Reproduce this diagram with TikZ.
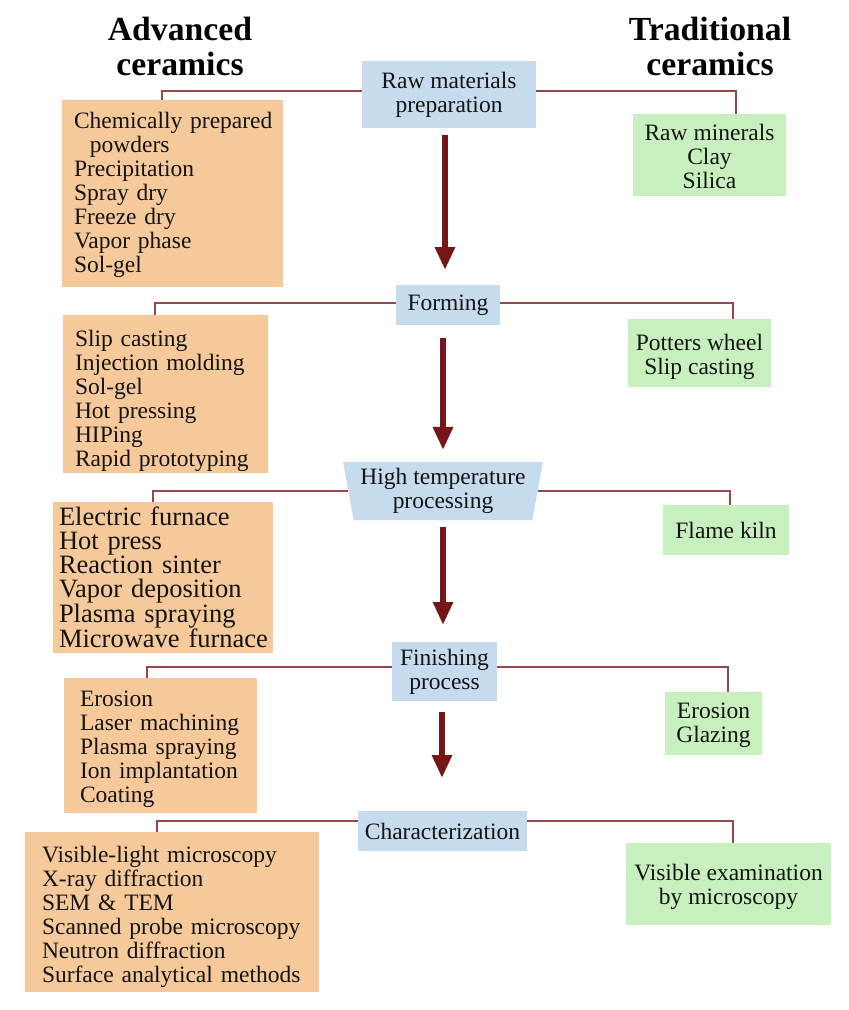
\documentclass[tikz,border=0pt]{standalone}
\usepackage{fontspec}
\setmainfont{Liberation Serif}
\usetikzlibrary{arrows.meta,shapes.geometric}
\definecolor{orangefill}{RGB}{246,201,155}
\definecolor{greenfill}{RGB}{200,240,190}
\definecolor{bluefill}{RGB}{198,220,238}
\definecolor{connc}{RGB}{150,72,72}
\definecolor{arrowc}{RGB}{118,22,22}
\definecolor{textc}{RGB}{20,20,20}
\newcommand\tgap[1]{\rule{0pt}{#1}}
\tikzset{
  basefont/.style={font=\fontsize{23.5}{24}\selectfont, text=textc},
  header/.style={font=\fontsize{33.7}{35}\selectfont\bfseries, text=black, align=center, inner sep=0pt},
  advbox/.style={basefont, fill=orangefill, anchor=north west, align=left, inner ysep=0pt, outer sep=0pt},
  tradbox/.style={basefont, fill=greenfill, align=center, inner sep=0pt, outer sep=0pt},
  stagebox/.style={basefont, fill=bluefill, align=center, inner sep=0pt, outer sep=0pt},
  conn/.style={draw=connc, line width=2pt},
  bigarrow/.style={draw=arrowc, line width=6.5pt, -{Triangle[width=19pt,length=23pt]}}
}
\begin{document}
\begin{tikzpicture}[x=1pt,y=-1pt]
\useasboundingbox[fill=white] (0,0) rectangle (849,1010);

% headers
\node[header] (hadv) at (180,46) {Advanced\\ceramics};
\node[header] (htrad) at (710,46) {Traditional\\ceramics};

% stage boxes
\node[stagebox, minimum width=174pt, minimum height=67pt] (b1) at (449,94.5) {Raw materials\\preparation};
\node[stagebox, minimum width=104pt, minimum height=40pt] (b2) at (448,305) {Forming};
\node[stagebox, trapezium, shape border rotate=180, trapezium angle=78, trapezium stretches=true,
      minimum width=200pt, minimum height=58pt] (b3) at (443,491) {High temperature\\processing};
\node[stagebox, minimum width=105pt, minimum height=59pt] (b4) at (444.5,671.5) {Finishing\\process};
\node[stagebox, minimum width=169pt, minimum height=40pt] (b5) at (442.5,831) {Characterization};

% advanced ceramics boxes
\node[advbox, inner xsep=12pt, text width=197pt, minimum height=187pt] (o1) at (62,100)
  {\tgap{20pt}\mbox{Chemically prepared}\\\hspace*{16pt}powders\\Precipitation\\Spray dry\\Freeze dry\\Vapor phase\\Sol-gel};
\node[advbox, inner xsep=12pt, text width=181pt, minimum height=158pt] (o2) at (63,315)
  {\tgap{30pt}\mbox{Slip casting}\\\mbox{Injection molding}\\Sol-gel\\\mbox{Hot pressing}\\HIPing\\\mbox{Rapid prototyping}};
\node[advbox, inner xsep=6pt, text width=208pt, minimum height=151pt, font=\fontsize{26.5}{24}\selectfont] (o3) at (53,502)
  {\mbox{Electric furnace}\\\mbox{Hot press}\\\mbox{Reaction sinter}\\\mbox{Vapor deposition}\\\mbox{Plasma spraying}\\\mbox{Microwave furnace}};
\node[advbox, inner xsep=16pt, text width=161pt, minimum height=135pt] (o4) at (64,678)
  {\tgap{23pt}Erosion\\\mbox{Laser machining}\\\mbox{Plasma spraying}\\\mbox{Ion implantation}\\Coating};
\node[advbox, inner xsep=17pt, text width=260pt, minimum height=160pt] (o5) at (25,832)
  {\tgap{27pt}\mbox{Visible-light microscopy}\\\mbox{X-ray diffraction}\\\mbox{SEM \& TEM}\\\mbox{Scanned probe microscopy}\\\mbox{Neutron diffraction}\\\mbox{Surface analytical methods}};

% traditional ceramics boxes
\node[tradbox, minimum width=153pt, minimum height=82pt] (g1) at (709.5,155) {\tgap{20pt}Raw minerals\\Clay\\Silica};
\node[tradbox, minimum width=143pt, minimum height=68pt] (g2) at (699.5,353) {\tgap{25pt}Potters wheel\\Slip casting};
\node[tradbox, minimum width=126pt, minimum height=50pt] (g3) at (726,530) {Flame kiln};
\node[tradbox, minimum width=97pt, minimum height=63pt] (g4) at (713.5,723.5) {\tgap{20pt}Erosion\\Glazing};
\node[tradbox, minimum width=205pt, minimum height=82pt] (g5) at (728.5,884) {\tgap{22pt}Visible examination\\by microscopy};

% connectors
\draw[conn] ([yshift=3.5pt]b1.west) -| ([xshift=-10.5pt]o1.north);
\draw[conn] ([yshift=3.5pt]b1.east) -| ([xshift=26.5pt]g1.north);
\draw[conn] ([yshift=2pt]b2.west) -| ([xshift=-10.5pt]o2.north);
\draw[conn] ([yshift=2pt]b2.east) -| ([xshift=33.5pt]g2.north);
\draw[conn] (b3.west) -| ([xshift=-10pt]o3.north);
\draw[conn] (b3.east) -| ([xshift=4pt]g3.north);
\draw[conn] ([yshift=4.5pt]b4.west) -| ([xshift=-13.5pt]o4.north);
\draw[conn] ([yshift=4.5pt]b4.east) -| ([xshift=14.5pt]g4.north);
\draw[conn] ([yshift=10pt]b5.west) -| ([xshift=-15pt]o5.north);
\draw[conn] ([yshift=10pt]b5.east) -| ([xshift=4.5pt]g5.north);

% process arrows
\draw[bigarrow, shorten <=7pt, shorten >=15pt] ([xshift=-4pt]b1.south) -- ([xshift=-4pt]b1.south |- b2.north);
\draw[bigarrow, shorten <=13pt, shorten >=12pt] ([xshift=-5pt]b2.south) -- ([xshift=-5pt]b2.south |- b3.north);
\draw[bigarrow, shorten <=7pt, shorten >=17pt] (b3.south) -- (b3.south |- b4.north);
\draw[bigarrow, shorten <=11pt, shorten >=33pt] ([xshift=-2.5pt]b4.south) -- ([xshift=-2.5pt]b4.south |- b5.north);
\end{tikzpicture}
\end{document}
